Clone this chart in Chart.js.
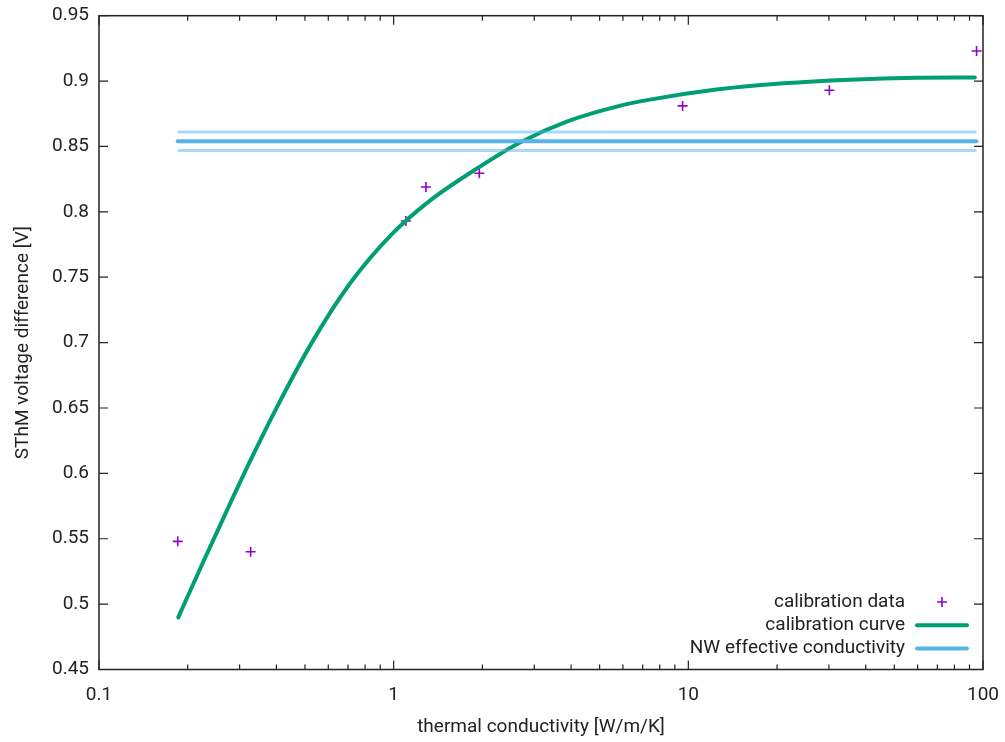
<!DOCTYPE html>
<html lang="en">
<head>
    <meta charset="UTF-8">
    <title>SThM calibration</title>
    <script src="https://cdn.jsdelivr.net/npm/chart.js"></script>
    <style>
        html, body {
            margin: 0;
            padding: 0;
            background: #ffffff;
        }
        .chart-box {
            width: 1005px;
            height: 742px;
        }
    </style>
</head>
<body>
    <div class="chart-box">
        <canvas id="calibChart" width="1005" height="742"></canvas>
    </div>

    <script>
        // calibration measurements (thermal conductivity, voltage)
        const calibK = [0.185, 0.327, 1.10, 1.287, 1.953, 9.56, 30.1, 95.1];
        const calibV = [0.548, 0.540, 0.793, 0.819, 0.8295, 0.881, 0.893, 0.923];

        // fitted calibration curve
        const curveK = [0.1858, 0.2259, 0.2677, 0.3253, 0.4009, 0.527, 0.7106, 0.9845, 1.328, 1.963,
                        2.683, 3.864, 5.711, 7.409, 12.47, 20.99, 35.35, 59.52, 93.87];
        const curveV = [0.4899, 0.5324, 0.5685, 0.6091, 0.6503, 0.6998, 0.7452, 0.7828, 0.8086, 0.8346,
                        0.853, 0.869, 0.8805, 0.8858, 0.8935, 0.8983, 0.9011, 0.9025, 0.9027];

        // nanowire effective value with its band
        const nwK = [0.185, 95];
        const nwV = 0.854;
        const nwLow = 0.847;
        const nwHigh = 0.861;

        const xTicks = [0.1, 1, 10, 100];
        const yTicks = [0.45, 0.5, 0.55, 0.6, 0.65, 0.7, 0.75, 0.8, 0.85, 0.9, 0.95];

        const labelFont = { family: 'Roboto', size: 19 };
        const textColor = '#222222';

        function pairs(xs, ys) {
            return xs.map((x, i) => ({ x: x, y: Array.isArray(ys) ? ys[i] : ys }));
        }

        // no extra room for overhanging tick labels, the layout padding decides
        function fixBox(scale, w, h) {
            if (w !== null) scale.width = w;
            if (h !== null) scale.height = h;
            scale.paddingLeft = 0;
            scale.paddingRight = 0;
            scale.paddingTop = 0;
            scale.paddingBottom = 0;
        }

        // frame + inward ticks on all four sides (gnuplot look)
        const framePlugin = {
            id: 'frame',
            afterDatasetsDraw(chart) {
                const ctx = chart.ctx;
                const a = chart.chartArea;
                const xs = chart.scales.x;
                const ys = chart.scales.y;
                ctx.save();
                ctx.strokeStyle = '#222222';
                ctx.lineWidth = 1.5;
                ctx.strokeRect(a.left, a.top, a.right - a.left, a.bottom - a.top);
                ctx.lineWidth = 1.2;
                ctx.beginPath();
                yTicks.forEach(v => {
                    const py = ys.getPixelForValue(v);
                    ctx.moveTo(a.left, py); ctx.lineTo(a.left + 9, py);
                    ctx.moveTo(a.right, py); ctx.lineTo(a.right - 9, py);
                });
                for (let d = 0.1; d < 100; d *= 10) {
                    for (let m = 1; m <= 10; m++) {
                        const px = xs.getPixelForValue(d * m);
                        const len = (m === 1 || m === 10) ? 9 : 5;
                        ctx.moveTo(px, a.bottom); ctx.lineTo(px, a.bottom - len);
                        ctx.moveTo(px, a.top); ctx.lineTo(px, a.top + len);
                    }
                }
                ctx.stroke();
                ctx.restore();
            }
        };

        // key in the lower right: right-aligned text, sample to the right
        const keyPlugin = {
            id: 'key',
            afterDraw(chart) {
                const ctx = chart.ctx;
                const textRight = 905;
                const sampleL = 917, sampleR = 967;
                let y = 602;
                ctx.save();
                ctx.font = labelFont.size + 'px ' + labelFont.family;
                ctx.textAlign = 'right';
                ctx.textBaseline = 'middle';
                chart.data.datasets.forEach(ds => {
                    if (!ds.inKey) return;
                    ctx.fillStyle = textColor;
                    ctx.fillText(ds.label, textRight, y);
                    ctx.strokeStyle = ds.borderColor;
                    ctx.lineWidth = ds.borderWidth;
                    ctx.beginPath();
                    if (ds.showLine) {
                        ctx.lineCap = 'round';
                        ctx.moveTo(sampleL, y); ctx.lineTo(sampleR, y);
                    } else {
                        const cx = (sampleL + sampleR) / 2;
                        const r = ds.pointRadius;
                        ctx.moveTo(cx - r, y); ctx.lineTo(cx + r, y);
                        ctx.moveTo(cx, y - r); ctx.lineTo(cx, y + r);
                    }
                    ctx.stroke();
                    y += 23.3;
                });
                ctx.restore();
            }
        };

        const ctx = document.getElementById('calibChart').getContext('2d');
        const calibChart = new Chart(ctx, {
            type: 'scatter',
            data: {
                datasets: [
                    {
                        label: 'calibration data',
                        data: pairs(calibK, calibV),
                        pointStyle: 'cross',
                        pointRadius: 5,
                        borderColor: '#9400d3',
                        backgroundColor: '#9400d3',
                        borderWidth: 1.6,
                        showLine: false,
                        inKey: true,
                        order: 3
                    },
                    {
                        label: 'calibration curve',
                        data: pairs(curveK, curveV),
                        borderColor: '#009e73',
                        borderWidth: 4,
                        pointRadius: 0,
                        showLine: true,
                        cubicInterpolationMode: 'monotone',
                        borderCapStyle: 'round',
                        inKey: true,
                        order: 2
                    },
                    {
                        label: 'NW effective conductivity',
                        data: pairs(nwK, nwV),
                        borderColor: '#56b4e9',
                        borderWidth: 4,
                        pointRadius: 0,
                        showLine: true,
                        borderCapStyle: 'round',
                        inKey: true,
                        order: 1
                    },
                    {
                        label: 'NW upper',
                        data: pairs(nwK, nwHigh),
                        borderColor: 'rgba(86, 180, 233, 0.5)',
                        borderWidth: 3,
                        pointRadius: 0,
                        showLine: true,
                        inKey: false,
                        order: 1
                    },
                    {
                        label: 'NW lower',
                        data: pairs(nwK, nwLow),
                        borderColor: 'rgba(86, 180, 233, 0.5)',
                        borderWidth: 3,
                        pointRadius: 0,
                        showLine: true,
                        inKey: false,
                        order: 1
                    }
                ]
            },
            options: {
                responsive: false,
                animation: false,
                layout: {
                    padding: { top: 15.7, right: 22, left: 0, bottom: 0 }
                },
                plugins: {
                    legend: { display: false },
                    tooltip: { enabled: false }
                },
                scales: {
                    x: {
                        type: 'logarithmic',
                        min: 0.1,
                        max: 100,
                        grid: { display: false, drawTicks: false },
                        border: { display: false },
                        afterBuildTicks: scale => {
                            scale.ticks = xTicks.map(v => ({ value: v }));
                        },
                        afterFit: scale => fixBox(scale, null, 72.5),
                        ticks: {
                            font: labelFont,
                            color: textColor,
                            padding: 14,
                            maxRotation: 0,
                            autoSkip: false,
                            callback: v => String(v)
                        },
                        title: {
                            display: true,
                            text: 'thermal conductivity [W/m/K]',
                            font: labelFont,
                            color: textColor,
                            padding: { top: 0, bottom: 3 }
                        }
                    },
                    y: {
                        min: 0.45,
                        max: 0.95,
                        grid: { display: false, drawTicks: false },
                        border: { display: false },
                        afterBuildTicks: scale => {
                            scale.ticks = yTicks.map(v => ({ value: v }));
                        },
                        afterFit: scale => fixBox(scale, 99, null),
                        ticks: {
                            font: labelFont,
                            color: textColor,
                            padding: 10,
                            autoSkip: false,
                            callback: v => String(Number(v.toFixed(2)))
                        },
                        title: {
                            display: true,
                            text: 'SThM voltage difference [V]',
                            font: labelFont,
                            color: textColor,
                            padding: { top: 12, bottom: 0 }
                        }
                    }
                }
            },
            plugins: [framePlugin, keyPlugin]
        });
    </script>
</body>
</html>
